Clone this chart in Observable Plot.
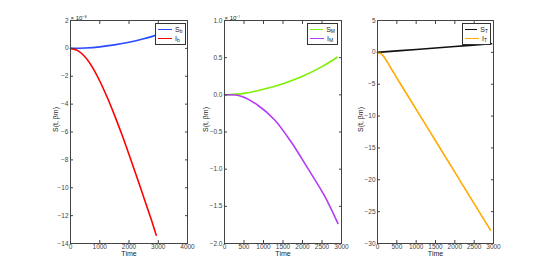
<!DOCTYPE html>
<html>
<head>
<meta charset="utf-8">
<script src="https://cdn.jsdelivr.net/npm/d3@7"></script>
<script src="https://cdn.jsdelivr.net/npm/@observablehq/plot@0.6"></script>
<style>
  body { margin: 0; background: #fff; }
  #wrap { position: relative; width: 545px; height: 273px; font-family: "Liberation Sans", Arial, sans-serif; }
  #wrap > div.p { position: absolute; top: 0; }
  .legend { position: absolute; border: 1px solid #333; background: #fff; font-size: 7px; color: #222; padding: 1px 2px; box-sizing: border-box; }
  .legend .row { display: flex; align-items: center; height: 9px; white-space: nowrap; }
  .legend .sw { display: inline-block; width: 14px; height: 1.6px; margin-right: 3px; }
  .legend sub { font-size: 5px; vertical-align: -1px; }
</style>
</head>
<body>
<div id="wrap"></div>
<script>
// ---- Data ----
// Panel 1 (values ×10^-8)
const sbTime = [0, 500, 1000, 1500, 2000, 2500, 2930];
const sbVal  = [0, 0.03, 0.11, 0.25, 0.44, 0.69, 0.95];
const ibTime = [0, 250, 500, 750, 1000, 1250, 1500, 1750, 2000, 2250, 2500, 2750, 2929];
const ibVal  = [0, -0.16, -0.62, -1.36, -2.34, -3.49, -4.77, -6.15, -7.61, -9.12, -10.66, -12.21, -13.4];
// Panel 2 (values ×10^-7)
const smTime = [0, 500, 1000, 1500, 2000, 2500, 2890];
const smVal  = [0, 0.02, 0.075, 0.15, 0.25, 0.38, 0.506];
const imTime = [0, 427, 855, 1282, 1710, 2137, 2565, 2907];
const imVal  = [0, -0.018, -0.14, -0.335, -0.635, -0.99, -1.36, -1.73];
// Panel 3
const stTime = [0, 1000, 2000, 2950];
const stVal  = [0, 0.46, 0.92, 1.35];
const itTime = [0, 100, 200, 300, 400, 500, 600, 1000, 1500, 2000, 2500, 2922];
const itVal  = [0, -0.25, -1.0, -2.0, -3.0, -4.0, -5.0, -8.94, -13.87, -18.8, -23.74, -27.9];

const xTicks1 = [0, 1000, 2000, 3000, 4000];
const xTicks23 = [0, 500, 1000, 1500, 2000, 2500, 3000];
const yTicks1 = [2, 0, -2, -4, -6, -8, -10, -12, -14];
const yTicks2 = [1, 0.5, 0, -0.5, -1, -1.5, -2];
const yTicks3 = [5, 0, -5, -10, -15, -20, -25, -30];

const yLabel = "S(t, βm)";
const xLabel = "Time";

const toRows = (t, v) => t.map((d, i) => ({t: d, v: v[i]}));

const panels = [
  {left: 70, w: 117, xDomain: [0, 4000], xTicks: xTicks1, yDomain: [-14, 2], yTicks: yTicks1,
   exp: "× 10⁻⁸", yLabOff: -15,
   series: [
     {rows: toRows(sbTime, sbVal), color: "#2a4bff", name: "S", sub: "b"},
     {rows: toRows(ibTime, ibVal), color: "#ff0000", name: "I", sub: "b"}],
   legend: {left: 155, width: 31}},
  {left: 224, w: 117, xDomain: [0, 3000], xTicks: xTicks23, yDomain: [-2, 1], yTicks: yTicks2,
   exp: "× 10⁻⁷", yLabOff: -19,
   series: [
     {rows: toRows(smTime, smVal), color: "#7cf000", name: "S", sub: "M"},
     {rows: toRows(imTime, imVal), color: "#b43cf5", name: "I", sub: "M"}],
   legend: {left: 307, width: 31}},
  {left: 377, w: 116, xDomain: [0, 3000], xTicks: xTicks23, yDomain: [-30, 5], yTicks: yTicks3,
   exp: null, yLabOff: -17,
   series: [
     {rows: toRows(stTime, stVal), color: "#111111", name: "S", sub: "T"},
     {rows: toRows(itTime, itVal), color: "#ffaa00", name: "I", sub: "T"}],
   legend: {left: 462, width: 29}}
];

const wrap = document.getElementById("wrap");
const mL = 45, mR = 10, mT = 20, mB = 30;
const axisColor = "#444";
const fmtX = d3.format("d");

panels.forEach(p => {
  const marks = [];
  p.series.forEach(s => {
    marks.push(Plot.line(s.rows, {x: "t", y: "v", stroke: s.color, strokeWidth: 1.6, curve: "catmull-rom"}));
  });
  marks.push(
    Plot.axisX({anchor: "bottom", ticks: p.xTicks, tickSize: -3, tickPadding: 4, tickFormat: fmtX, label: null, fontSize: 6.5, color: axisColor}),
    Plot.axisX({anchor: "top", ticks: p.xTicks, tickSize: -3, tickFormat: () => "", label: null, color: axisColor}),
    Plot.axisY({anchor: "left", ticks: p.yTicks, tickSize: -3, tickPadding: 5, label: null, fontSize: 6.5, color: axisColor}),
    Plot.axisY({anchor: "right", ticks: p.yTicks, tickSize: -3, tickFormat: () => "", label: null, color: axisColor}),
    Plot.frame({stroke: axisColor, strokeWidth: 1}),
    Plot.text([xLabel], {frameAnchor: "bottom", dy: 12.5, fontSize: 7, fill: "#222"}),
    Plot.text([yLabel], {frameAnchor: "left", dx: p.yLabOff, rotate: -90, fontSize: 7, fill: "#222"})
  );
  if (p.exp) {
    marks.push(Plot.text([p.exp], {frameAnchor: "top-left", dy: -5, textAnchor: "start", fontSize: 6, fill: "#222"}));
  }
  const chart = Plot.plot({
    width: mL + p.w + mR,
    height: 273,
    marginLeft: mL, marginRight: mR, marginTop: mT, marginBottom: mB,
    x: {domain: p.xDomain},
    y: {domain: p.yDomain},
    style: {background: "transparent", fontFamily: "'Liberation Sans', Arial, sans-serif", overflow: "visible"},
    marks
  });
  const holder = document.createElement("div");
  holder.className = "p";
  holder.style.left = (p.left - mL) + "px";
  holder.appendChild(chart);
  wrap.appendChild(holder);

  const lg = document.createElement("div");
  lg.className = "legend";
  lg.style.left = p.legend.left + "px";
  lg.style.top = "23px";
  lg.style.width = p.legend.width + "px";
  p.series.forEach(s => {
    const row = document.createElement("div");
    row.className = "row";
    row.innerHTML = `<span class="sw" style="background:${s.color}"></span><span>${s.name}<sub>${s.sub}</sub></span>`;
    lg.appendChild(row);
  });
  wrap.appendChild(lg);
});
</script>
</body>
</html>
